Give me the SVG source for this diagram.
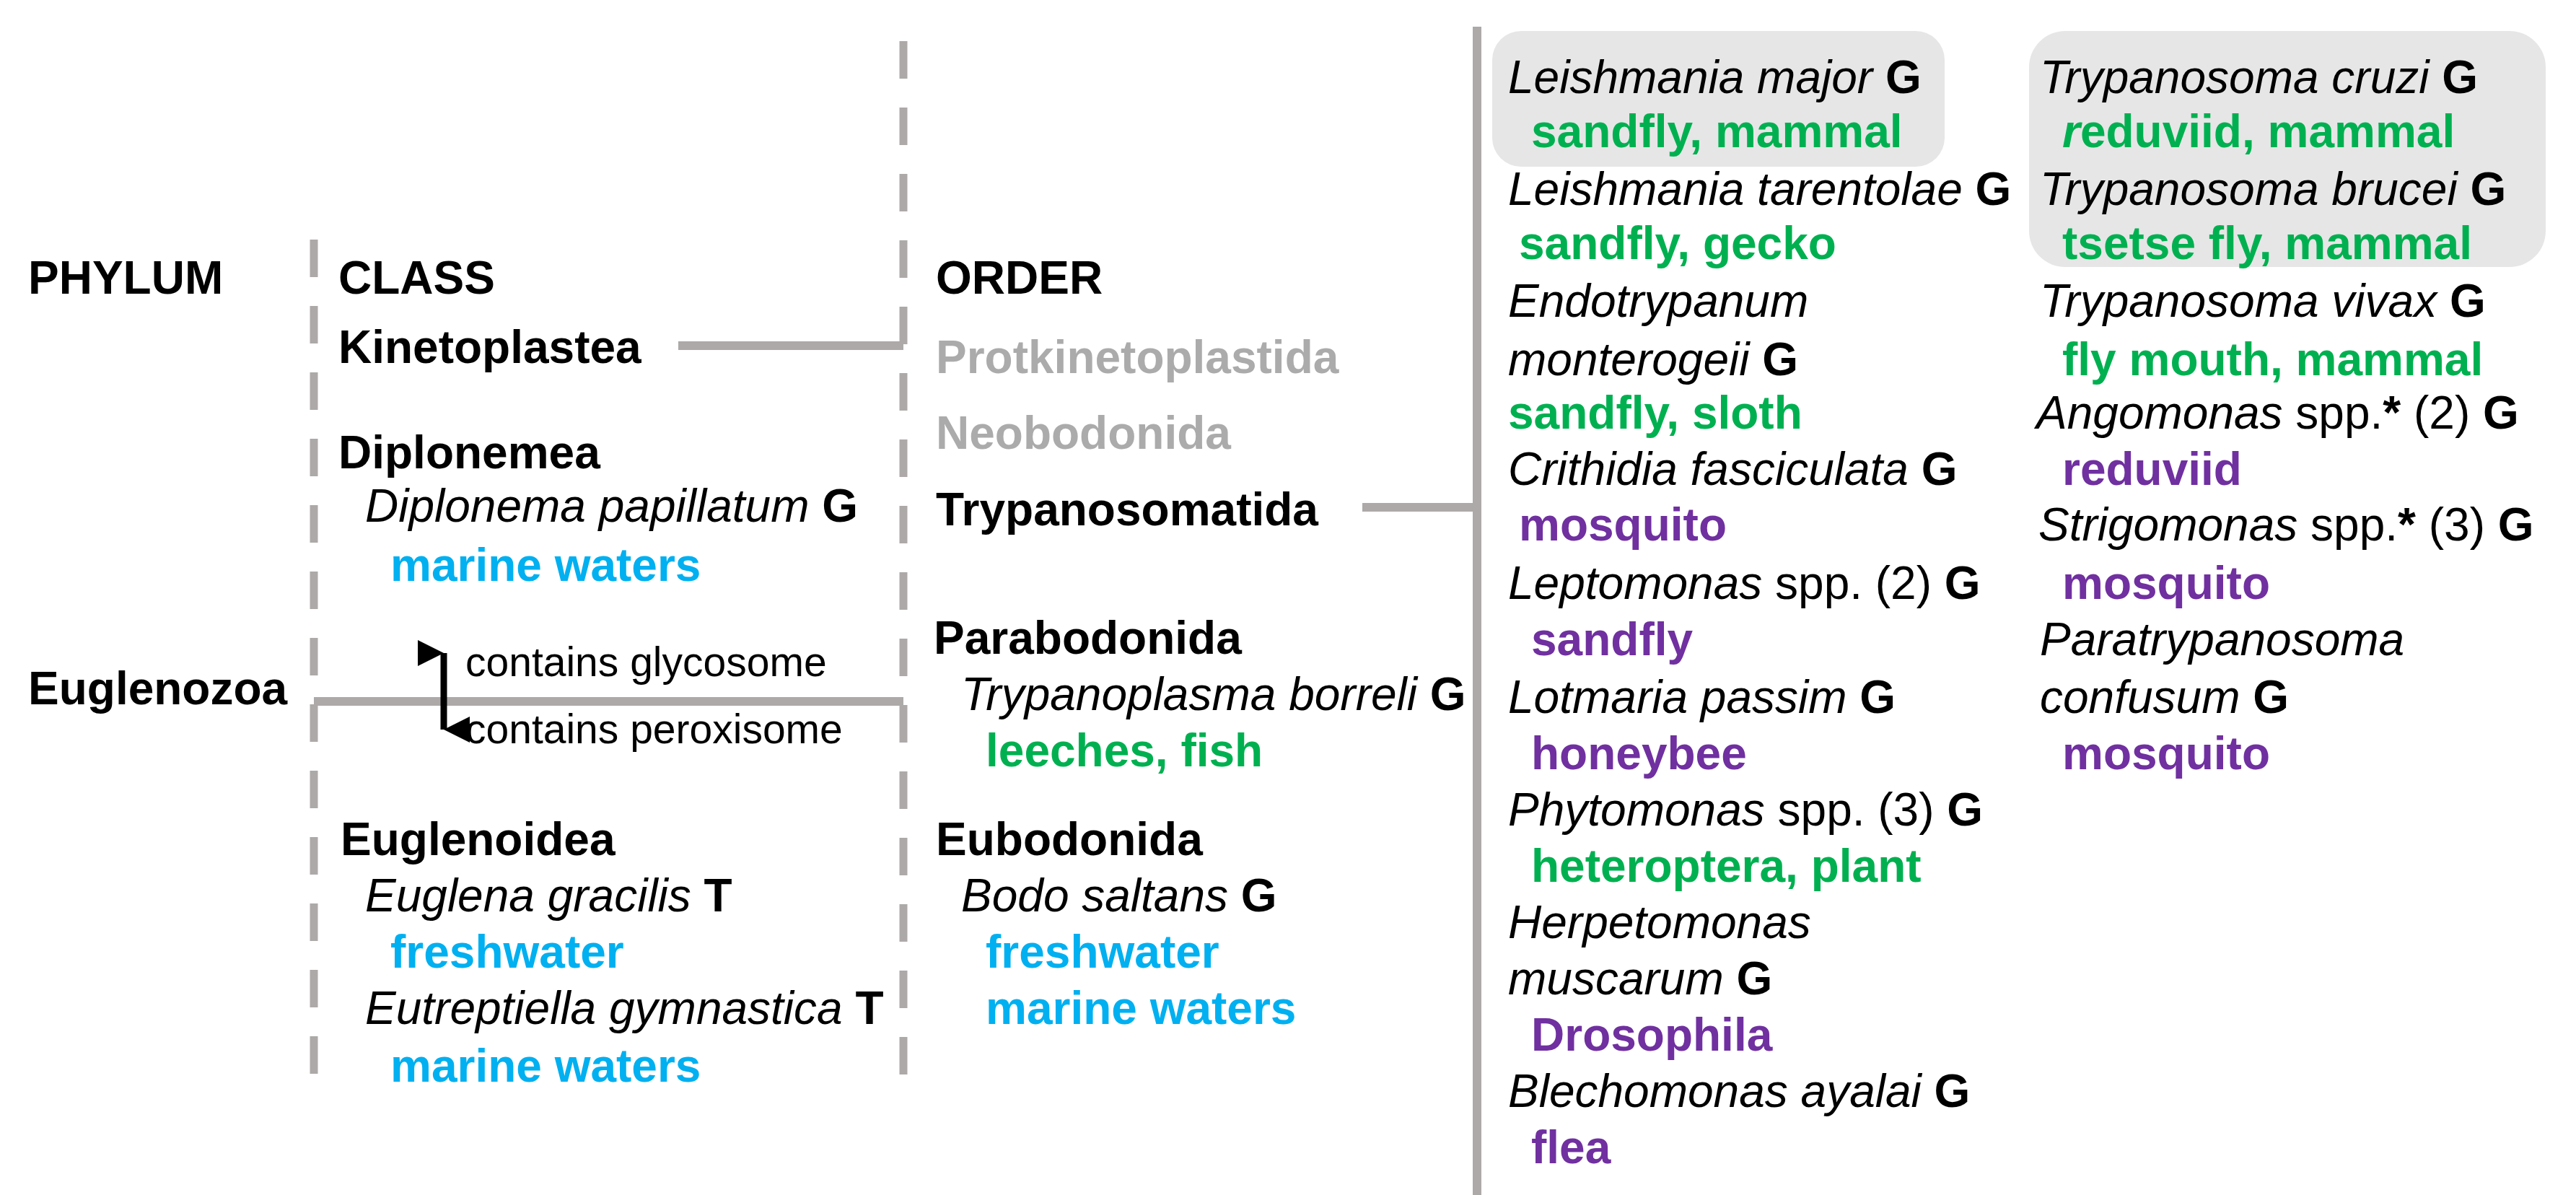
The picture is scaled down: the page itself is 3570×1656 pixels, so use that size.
<svg xmlns="http://www.w3.org/2000/svg" width="3570" height="1656" viewBox="0 0 3570 1656">
<style>
text{font-family:"Liberation Sans",Arial,sans-serif;font-size:64px;fill:#000}
.b{font-weight:bold}.i{font-style:italic}
.g{fill:#00B050;font-weight:bold}.bl{fill:#00B0F0;font-weight:bold}.p{fill:#7030A0;font-weight:bold}
.gr{fill:#ABABAB;font-weight:bold}.s{font-size:57px}
.dash{stroke:#ADA9A9;stroke-width:11;stroke-dasharray:52 40;fill:none}
.ln{stroke:#ADA9A9;stroke-width:12;fill:none}
.box{fill:#E6E6E6}
</style>
<defs>
<marker id="ah" viewBox="0 0 10 10" refX="5" refY="10" markerWidth="4" markerHeight="6" orient="auto-start-reverse" markerUnits="strokeWidth"><path d="M0,0L10,0L5,10z" fill="#000"/></marker>
</defs>
<g id="connectors">
<line class="dash" x1="435" y1="332" x2="435" y2="1490"/>
<line class="dash" x1="1252" y1="57" x2="1252" y2="1490"/>
<line class="ln" x1="2047" y1="37" x2="2047" y2="1656"/>
<line class="ln" x1="940" y1="479" x2="1252" y2="479"/>
<line class="ln" x1="435" y1="972" x2="1252" y2="972"/>
<line class="ln" x1="1888" y1="703" x2="2047" y2="703"/>
<line x1="615" y1="905" x2="615" y2="1011" stroke="#000" stroke-width="9" marker-start="url(#ah)" marker-end="url(#ah)"/>
</g>
<g id="phylum">
<text class="b" x="39" y="407">PHYLUM</text>
<text class="b" x="39" y="976">Euglenozoa</text>
</g>
<g id="class">
<text class="b" x="469" y="407">CLASS</text>
<text class="b" x="469" y="503">Kinetoplastea</text>
<text class="b" x="469" y="649">Diplonemea</text>
<text x="506" y="723"><tspan class="i">Diplonema papillatum</tspan><tspan class="b"> G</tspan></text>
<text class="bl" x="541" y="805">marine waters</text>
<text class="s" x="645" y="937">contains glycosome</text>
<text class="s" x="645" y="1030">contains peroxisome</text>
<text class="b" x="472" y="1185">Euglenoidea</text>
<text x="506" y="1263"><tspan class="i">Euglena gracilis</tspan><tspan class="b"> T</tspan></text>
<text class="bl" x="541" y="1341">freshwater</text>
<text x="506" y="1419"><tspan class="i">Eutreptiella gymnastica</tspan><tspan class="b"> T</tspan></text>
<text class="bl" x="541" y="1499">marine waters</text>
</g>
<g id="order">
<text class="b" x="1297" y="407">ORDER</text>
<text class="gr" x="1297" y="517">Protkinetoplastida</text>
<text class="gr" x="1297" y="622">Neobodonida</text>
<text class="b" x="1297" y="728">Trypanosomatida</text>
<text class="b" x="1294" y="906">Parabodonida</text>
<text x="1332" y="984"><tspan class="i">Trypanoplasma borreli</tspan><tspan class="b"> G</tspan></text>
<text class="g" x="1366" y="1062">leeches, fish</text>
<text class="b" x="1297" y="1185">Eubodonida</text>
<text x="1332" y="1263"><tspan class="i">Bodo saltans</tspan><tspan class="b"> G</tspan></text>
<text class="bl" x="1366" y="1341">freshwater</text>
<text class="bl" x="1366" y="1419">marine waters</text>
</g>
<g id="species1">
<rect class="box" x="2068" y="43" width="627" height="188" rx="40"/>
<text x="2090" y="129"><tspan class="i">Leishmania major</tspan><tspan class="b"> G</tspan></text>
<text class="g" x="2122" y="204">sandfly, mammal</text>
<text x="2090" y="284"><tspan class="i">Leishmania tarentolae</tspan><tspan class="b"> G</tspan></text>
<text class="g" x="2105" y="359">sandfly, gecko</text>
<text class="i" x="2090" y="439">Endotrypanum</text>
<text x="2090" y="520"><tspan class="i">monterogeii</tspan><tspan class="b"> G</tspan></text>
<text class="g" x="2090" y="594">sandfly, sloth</text>
<text x="2090" y="672"><tspan class="i">Crithidia fasciculata</tspan><tspan class="b"> G</tspan></text>
<text class="p" x="2105" y="749">mosquito</text>
<text x="2090" y="830"><tspan class="i">Leptomonas</tspan> spp. (2)<tspan class="b"> G</tspan></text>
<text class="p" x="2122" y="908">sandfly</text>
<text x="2090" y="988"><tspan class="i">Lotmaria passim</tspan><tspan class="b"> G</tspan></text>
<text class="p" x="2122" y="1066">honeybee</text>
<text x="2090" y="1144"><tspan class="i">Phytomonas</tspan> spp. (3)<tspan class="b"> G</tspan></text>
<text class="g" x="2122" y="1222">heteroptera, plant</text>
<text class="i" x="2090" y="1300">Herpetomonas</text>
<text x="2090" y="1378"><tspan class="i">muscarum</tspan><tspan class="b"> G</tspan></text>
<text class="p" x="2122" y="1456">Drosophila</text>
<text x="2090" y="1534"><tspan class="i">Blechomonas ayalai</tspan><tspan class="b"> G</tspan></text>
<text class="p" x="2122" y="1612">flea</text>
</g>
<g id="species2">
<rect class="box" x="2812" y="43" width="716" height="327" rx="50"/>
<text x="2827" y="129"><tspan class="i">Trypanosoma cruzi</tspan><tspan class="b"> G</tspan></text>
<text class="g" x="2858" y="204"><tspan class="i">r</tspan>eduviid, mammal</text>
<text x="2827" y="284"><tspan class="i">Trypanosoma brucei</tspan><tspan class="b"> G</tspan></text>
<text class="g" x="2858" y="359">tsetse fly, mammal</text>
<text x="2827" y="439"><tspan class="i">Trypanosoma vivax</tspan><tspan class="b"> G</tspan></text>
<text class="g" x="2858" y="520">fly mouth, mammal</text>
<text x="2822" y="594"><tspan class="i">Angomonas</tspan> spp.<tspan class="b">*</tspan> (2)<tspan class="b"> G</tspan></text>
<text class="p" x="2858" y="672">reduviid</text>
<text x="2825" y="749"><tspan class="i">Strigomonas</tspan> spp.<tspan class="b">*</tspan> (3)<tspan class="b"> G</tspan></text>
<text class="p" x="2858" y="830">mosquito</text>
<text class="i" x="2827" y="908">Paratrypanosoma</text>
<text x="2827" y="988"><tspan class="i">confusum</tspan><tspan class="b"> G</tspan></text>
<text class="p" x="2858" y="1066">mosquito</text>
</g>
</svg>
